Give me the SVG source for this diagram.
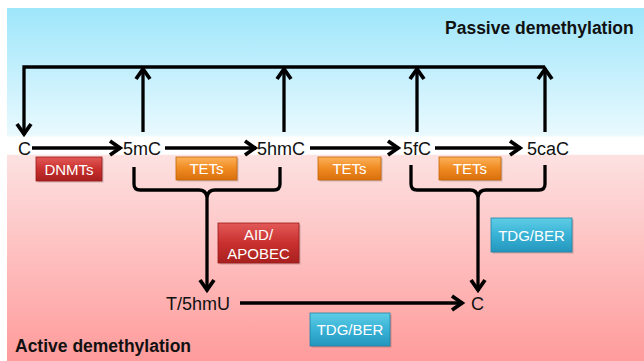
<svg xmlns="http://www.w3.org/2000/svg" width="644" height="361" viewBox="0 0 644 361">
<defs>
<linearGradient id="bg" x1="0" y1="0" x2="0" y2="1">
<stop offset="0" stop-color="#9ee6fb"/>
<stop offset="0.36" stop-color="#e9f9fe"/>
<stop offset="0.366" stop-color="#ffffff"/>
<stop offset="0.414" stop-color="#ffffff"/>
<stop offset="0.418" stop-color="#fde1e1"/>
<stop offset="1" stop-color="#ff9b9b"/>
</linearGradient>
<linearGradient id="gRed" x1="0" y1="0" x2="0" y2="1">
<stop offset="0" stop-color="#e25a58"/>
<stop offset="0.5" stop-color="#c8302e"/>
<stop offset="1" stop-color="#a8201f"/>
</linearGradient>
<linearGradient id="gOrange" x1="0" y1="0" x2="0" y2="1">
<stop offset="0" stop-color="#fbb25a"/>
<stop offset="0.5" stop-color="#f08a22"/>
<stop offset="1" stop-color="#d8700c"/>
</linearGradient>
<linearGradient id="gBlue" x1="0" y1="0" x2="0" y2="1">
<stop offset="0" stop-color="#5fcde6"/>
<stop offset="0.5" stop-color="#38b2d6"/>
<stop offset="1" stop-color="#2596bd"/>
</linearGradient>
<marker id="arr" markerUnits="userSpaceOnUse" viewBox="-14 -10 16 20" refX="0" refY="0" markerWidth="16" markerHeight="20" orient="auto" overflow="visible">
<path d="M-11,-7 L-1,0 L-11,7" fill="none" stroke="#000" stroke-width="3.8" stroke-linejoin="miter"/>
</marker>
<style>
.ln{fill:none;stroke:#000;stroke-width:3.3}
.ar{marker-end:url(#arr)}
.lbl{font-family:"Liberation Sans",Arial,sans-serif;font-size:18px;fill:#111}
.ttl{font-family:"Liberation Sans",Arial,sans-serif;font-size:17.5px;font-weight:bold;fill:#111}
.bt{font-family:"Liberation Sans",Arial,sans-serif;font-size:15px;fill:#fff;text-anchor:middle}
.sh{fill:#000;opacity:0.18}
.red{fill:url(#gRed);stroke:#9a1a1a;stroke-width:0.8}
.org{fill:url(#gOrange);stroke:#c46508;stroke-width:0.8}
.blu{fill:url(#gBlue);stroke:#1d86a9;stroke-width:0.8}
</style>
</defs>
<rect x="7" y="8" width="637" height="353" fill="url(#bg)"/>
<text class="ttl" x="445" y="34">Passive demethylation</text>
<text class="ttl" x="15" y="352">Active demethylation</text>
<g id="connectors">
<path class="ln ar" d="M545,67 H24 V135"/>
<path class="ln ar" d="M143,132 V68"/>
<path class="ln ar" d="M284,132 V68"/>
<path class="ln ar" d="M417,132 V68"/>
<path class="ln ar" d="M545,132 V68"/>
<path class="ln ar" d="M32,148 H121"/>
<path class="ln ar" d="M165,148 H256"/>
<path class="ln ar" d="M310,148 H399"/>
<path class="ln ar" d="M435,148 H521"/>
<path class="ln" d="M134,167 V184 Q134,190 140,190 H199 Q206,190 207,197 Q208,190 215,190 H274 Q280,190 280,184 V167"/>
<path class="ln ar" d="M207,195 V291"/>
<path class="ln" d="M411,165 V184 Q411,190 417,190 H470 Q477,190 478,197 Q479,190 486,190 H539 Q545,190 545,184 V165"/>
<path class="ln ar" d="M478,195 V291"/>
<path class="ln ar" d="M240,303 H463"/>
</g>
<g id="n-C"><text class="lbl" x="18" y="154.5">C</text></g>
<g id="n-5mC"><text class="lbl" x="123" y="154.5">5mC</text></g>
<g id="n-5hmC"><text class="lbl" x="257" y="154.5">5hmC</text></g>
<g id="n-5fC"><text class="lbl" x="403" y="154.5">5fC</text></g>
<g id="n-5caC"><text class="lbl" x="527" y="154.5">5caC</text></g>
<g id="n-T5hmU"><text class="lbl" x="166" y="309.5">T/5hmU</text></g>
<g id="n-C2"><text class="lbl" x="471" y="309.5">C</text></g>
<g id="e-DNMTs"><rect class="sh" x="37.5" y="158.5" width="66" height="24"/><rect class="red" x="36" y="157" width="66" height="24"/><text class="bt" x="69" y="174.5">DNMTs</text></g>
<g id="e-TETs1"><rect class="sh" x="177.5" y="158.5" width="61" height="23"/><rect class="org" x="176" y="157" width="61" height="23"/><text class="bt" x="206.5" y="174">TETs</text></g>
<g id="e-TETs2"><rect class="sh" x="319.5" y="158.5" width="63" height="23"/><rect class="org" x="318" y="157" width="63" height="23"/><text class="bt" x="349.5" y="174">TETs</text></g>
<g id="e-TETs3"><rect class="sh" x="440.5" y="158.5" width="62" height="23"/><rect class="org" x="439" y="157" width="62" height="23"/><text class="bt" x="470" y="174">TETs</text></g>
<g id="e-AID"><rect class="sh" x="219.5" y="224.5" width="81" height="40"/><rect class="red" x="218" y="223" width="81" height="40"/><text class="bt" x="258.5" y="240">AID/</text><text class="bt" x="258.5" y="259">APOBEC</text></g>
<g id="e-TDG1"><rect class="sh" x="492.5" y="219.5" width="81" height="34"/><rect class="blu" x="491" y="218" width="81" height="34"/><text class="bt" x="531.5" y="240.5">TDG/BER</text></g>
<g id="e-TDG2"><rect class="sh" x="311.5" y="314.5" width="80" height="33"/><rect class="blu" x="310" y="313" width="80" height="33"/><text class="bt" x="350" y="335">TDG/BER</text></g>
</svg>
